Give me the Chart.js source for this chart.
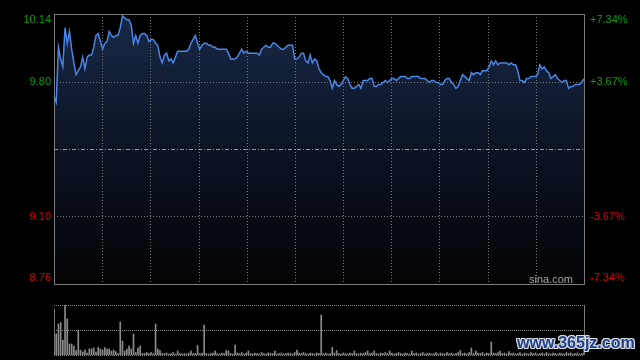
<!DOCTYPE html>
<html>
<head>
<meta charset="utf-8">
<script src="https://cdn.jsdelivr.net/npm/chart.js@4.4.0/dist/chart.umd.min.js"></script>
<style>
  html, body { margin: 0; padding: 0; background: #000; }
  #wrap { position: relative; width: 640px; height: 360px; overflow: hidden; background: #000; }
  #price { position: absolute; left: 0; top: 0; }
  #vol { position: absolute; left: 0; top: 290px; }
  #mark {
    position: absolute; left: 517px; top: 334px; line-height: 20px;
    font: bold 16px "Liberation Sans", Arial, sans-serif;
    color: #1f3f86;
    text-shadow: 1px 1px 0 #d6dbe6, -1px -1px 0 #d6dbe6, 1px -1px 0 #d6dbe6, -1px 1px 0 #d6dbe6,
                 0 1px 0 #d6dbe6, 0 -1px 0 #d6dbe6, 1px 0 0 #d6dbe6, -1px 0 0 #d6dbe6;
  }
</style>
</head>
<body>
<div id="wrap">
  <canvas id="price" width="640" height="290"></canvas>
  <canvas id="vol" width="640" height="70"></canvas>
  <div id="mark">www.365jz.com</div>
</div>
<script>
/* intraday price + volume, sina-style dark panel */
var PREV_CLOSE = 9.45;
var PRICE_TICKS = [10.14, 9.795, 9.45, 9.105, 8.76];
var PRICE_LABELS = ["10.14", "9.80", "", "9.10", "8.76"];
var PCT_LABELS = ["+7.34%", "+3.67%", "", "-3.67%", "-7.34%"];
var VOL_TICKS = [100, 50, 0];

// one price per minute, 9:30 .. 15:00
var PRICES = [
  9.72, 9.69, 9.97, 9.91, 9.87, 10.07, 9.99, 10.05, 9.96, 9.89,
  9.83, 9.85, 9.87, 9.92, 9.86, 9.92, 9.93, 9.93, 9.97, 10.03,
  10.04, 10.00, 9.96, 9.99, 10.00, 10.05, 10.03, 10.02, 10.03, 10.03,
  10.07, 10.13, 10.12, 10.11, 10.11, 10.08, 9.99, 10.03, 9.99, 10.03,
  10.04, 10.04, 10.03, 10.00, 10.01, 10.01, 9.99, 9.98, 9.92, 9.89,
  9.93, 9.94, 9.90, 9.91, 9.89, 9.92, 9.95, 9.95, 9.95, 9.95,
  9.95, 9.96, 9.99, 10.01, 10.03, 9.99, 9.96, 9.98, 9.99, 9.99,
  9.98, 9.98, 9.97, 9.97, 9.96, 9.96, 9.96, 9.96, 9.96, 9.94,
  9.91, 9.91, 9.91, 9.92, 9.94, 9.96, 9.94, 9.95, 9.94, 9.94,
  9.94, 9.94, 9.94, 9.93, 9.96, 9.97, 9.98, 9.97, 9.97, 9.99,
  9.99, 9.98, 9.97, 9.96, 9.96, 9.97, 9.98, 9.98, 9.98, 9.91,
  9.91, 9.92, 9.94, 9.94, 9.90, 9.89, 9.93, 9.89, 9.91, 9.90,
  9.86, 9.84, 9.83, 9.82, 9.82, 9.80, 9.76, 9.80, 9.78, 9.77,
  9.78, 9.80, 9.82, 9.81, 9.78, 9.76, 9.76, 9.77, 9.78, 9.76,
  9.80, 9.80, 9.80, 9.81, 9.81, 9.77, 9.77, 9.78, 9.78, 9.79,
  9.80, 9.79, 9.80, 9.81, 9.81, 9.80, 9.81, 9.82, 9.82, 9.82,
  9.81, 9.81, 9.82, 9.82, 9.82, 9.82, 9.81, 9.81, 9.81, 9.80,
  9.79, 9.80, 9.80, 9.79, 9.79, 9.78, 9.78, 9.80, 9.81, 9.81,
  9.79, 9.78, 9.76, 9.77, 9.80, 9.83, 9.82, 9.81, 9.80, 9.84,
  9.83, 9.84, 9.84, 9.83, 9.85, 9.85, 9.85, 9.87, 9.90, 9.88,
  9.90, 9.88, 9.89, 9.89, 9.89, 9.89, 9.88, 9.89, 9.88, 9.88,
  9.85, 9.80, 9.80, 9.79, 9.81, 9.81, 9.82, 9.82, 9.82, 9.83,
  9.88, 9.86, 9.87, 9.85, 9.84, 9.81, 9.82, 9.83, 9.81, 9.80,
  9.79, 9.80, 9.80, 9.76, 9.77, 9.77, 9.78, 9.78, 9.78, 9.79, 9.81
];

// volume per minute, as % of the panel's top line
var VOLUMES = [
  92, 42, 62, 65, 30, 100, 72, 22, 22, 18,
  9, 50, 10, 6, 10, 4, 12, 12, 14, 6,
  15, 12, 10, 15, 12, 12, 8, 10, 7, 3,
  66, 28, 8, 12, 18, 12, 42, 5, 14, 18,
  3, 3, 5, 3, 5, 3, 62, 12, 9, 3,
  3, 4, 2, 3, 5, 2, 8, 3, 2, 3,
  2, 4, 8, 3, 3, 19, 3, 4, 60, 3,
  2, 3, 4, 8, 3, 2, 4, 3, 9, 8,
  3, 2, 20, 4, 3, 5, 2, 4, 8, 3,
  2, 4, 3, 2, 5, 3, 2, 4, 3, 3,
  8, 2, 3, 4, 2, 3, 4, 3, 2, 5,
  10, 4, 3, 5, 3, 2, 4, 3, 2, 4,
  3, 80, 3, 4, 2, 3, 15, 4, 9, 3,
  2, 4, 3, 2, 4, 3, 8, 3, 2, 4,
  3, 5, 8, 3, 4, 8, 3, 2, 4, 3,
  5, 3, 8, 4, 2, 3, 5, 3, 2, 4,
  3, 2, 8, 3, 4, 2, 3, 5, 2, 3,
  4, 2, 3, 5, 2, 4, 3, 2, 5, 3,
  4, 2, 3, 5, 9, 3, 4, 2, 5, 14,
  3, 8, 4, 3, 5, 2, 4, 3, 26, 4,
  3, 5, 8, 3, 4, 2, 7, 3, 4, 2,
  3, 5, 2, 4, 3, 2, 5, 3, 4, 2,
  3, 4, 2, 5, 3, 2, 4, 3, 2, 4,
  3, 2, 5, 3, 4, 2, 3, 4, 2, 3, 5
];

// minute labels: 9:30-11:30, 13:01-15:00
var TIMES = [];
(function () {
  function fmt(m) { var h = Math.floor(m / 60), mm = m % 60; return h + ":" + (mm < 10 ? "0" : "") + mm; }
  for (var m = 570; m <= 690; m++) TIMES.push(fmt(m));
  for (var n = 781; n <= 900; n++) TIMES.push(fmt(n));
})();

var GRID = "#7a7a7a", FRAME = "#7c7c7c", UP = "#0a9e0a", DOWN = "#d80000";
var FONT = "11px 'Liberation Sans', Arial, sans-serif";

function hline(ctx, x0, x1, y) { ctx.beginPath(); ctx.moveTo(x0, y); ctx.lineTo(x1, y); ctx.stroke(); }
function vline(ctx, x, y0, y1) { ctx.beginPath(); ctx.moveTo(x, y0); ctx.lineTo(x, y1); ctx.stroke(); }

var priceGrid = {
  id: "priceGrid",
  beforeDatasetsDraw: function (chart) {
    var ctx = chart.ctx, a = chart.chartArea, x = chart.scales.x, y = chart.scales.y;
    ctx.save();
    ctx.lineWidth = 1;
    ctx.strokeStyle = GRID;
    ctx.setLineDash([1, 2]);
    for (var k = 1; k < 11; k++) {
      var px = Math.round(x.getPixelForValue(k * (TIMES.length - 1) / 11)) + 0.5;
      vline(ctx, px, a.top, a.bottom);
    }
    PRICE_TICKS.forEach(function (v, i) {
      if (i === 0 || i === PRICE_TICKS.length - 1) return;
      var py = Math.round(y.getPixelForValue(v)) + 0.5;
      if (v === PREV_CLOSE) { ctx.strokeStyle = "#9a9a9a"; ctx.setLineDash([4, 2, 1, 2]); }
      else { ctx.strokeStyle = GRID; ctx.setLineDash([1, 2]); }
      hline(ctx, a.left, a.right, py);
    });
    ctx.restore();
  },
  afterDraw: function (chart) {
    var ctx = chart.ctx, a = chart.chartArea, y = chart.scales.y;
    ctx.save();
    ctx.strokeStyle = FRAME; ctx.lineWidth = 1;
    ctx.strokeRect(a.left + 0.5, a.top + 0.5, a.right - a.left, a.bottom - a.top);
    ctx.font = FONT;
    ctx.textBaseline = "middle";
    PRICE_TICKS.forEach(function (v, i) {
      if (!PRICE_LABELS[i]) return;
      var py = Math.min(Math.max(y.getPixelForValue(v), a.top + 6), a.bottom - 6);
      ctx.fillStyle = v > PREV_CLOSE ? UP : DOWN;
      ctx.textAlign = "right";
      ctx.fillText(PRICE_LABELS[i], a.left - 3, py);
      ctx.textAlign = "left";
      ctx.fillText(PCT_LABELS[i], a.right + 6, py);
    });
    ctx.fillStyle = "#a4a4a4";
    ctx.textAlign = "right"; ctx.textBaseline = "alphabetic";
    ctx.fillText("sina.com", a.right - 11, a.bottom - 1);
    ctx.restore();
  }
};

var volGrid = {
  id: "volGrid",
  afterDraw: function (chart) {
    var ctx = chart.ctx, a = chart.chartArea, y = chart.scales.y;
    ctx.save();
    ctx.lineWidth = 1;
    ctx.strokeStyle = "#8a8a8a";
    ctx.setLineDash([1, 1]);
    VOL_TICKS.forEach(function (v) {
      hline(ctx, a.left, a.right, Math.round(y.getPixelForValue(v)) + 0.5);
    });
    ctx.setLineDash([]);
    ctx.strokeStyle = FRAME;
    vline(ctx, a.right + 0.5, a.top, a.bottom);
    ctx.restore();
  }
};

new Chart(document.getElementById("price"), {
  type: "line",
  data: {
    labels: TIMES,
    datasets: [{
      data: PRICES,
      borderColor: "#4a86e6",
      borderWidth: 1.5,
      pointRadius: 0,
      tension: 0,
      fill: "start",
      backgroundColor: function (c) {
        var a = c.chart.chartArea;
        if (!a) return "#101a2e";
        var g = c.chart.ctx.createLinearGradient(0, a.top, 0, a.bottom);
        g.addColorStop(0, "#182846");
        g.addColorStop(0.5, "#0c1424");
        g.addColorStop(1, "#020304");
        return g;
      }
    }]
  },
  options: {
    responsive: false, animation: false, events: [],
    layout: { padding: { left: 54, right: 56, top: 14, bottom: 6 } },
    plugins: { legend: { display: false }, tooltip: { enabled: false }, filler: { drawTime: "beforeDatasetsDraw" } },
    scales: {
      x: { display: false },
      y: { display: false, min: PRICE_TICKS[4], max: PRICE_TICKS[0] }
    }
  },
  plugins: [priceGrid]
});

new Chart(document.getElementById("vol"), {
  type: "bar",
  data: {
    labels: TIMES,
    datasets: [{ data: VOLUMES, backgroundColor: "#8c8c8c", barThickness: 1 }]
  },
  options: {
    responsive: false, animation: false, events: [],
    layout: { padding: { left: 54, right: 56, top: 15, bottom: 5 } },
    plugins: { legend: { display: false }, tooltip: { enabled: false } },
    scales: {
      x: { display: false, offset: false },
      y: { display: false, min: 0, max: 100 }
    }
  },
  plugins: [volGrid]
});
</script>
</body>
</html>
